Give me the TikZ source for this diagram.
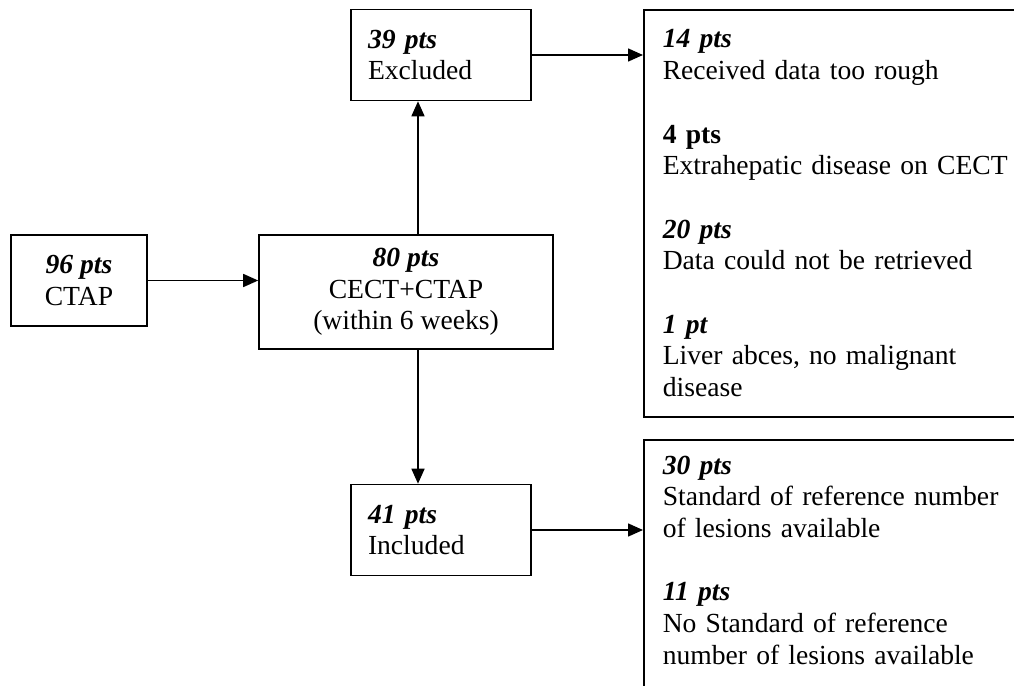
\documentclass[tikz,border=0pt]{standalone}
\usepackage{fontspec}
\setmainfont{Liberation Serif}
\usetikzlibrary{arrows.meta}

\newcommand{\pts}[1]{\textbf{\textit{#1}}}

\begin{document}
\begin{tikzpicture}[x=0.5pt,y=-0.5pt,
  font=\fontsize{13.8}{15.85}\selectfont,
  box/.style={draw,line width=0.8pt,inner sep=0pt},
  smallbox/.style={box,minimum width=90pt,minimum height=45.5pt,text width=73pt,align=left,inner xsep=8.5pt},
  bigbox/.style={box,anchor=north west,text width=176pt,align=left,inner xsep=9.5pt,inner ysep=8pt},
  arrow/.style={line width=0.8pt,-{Triangle[length=7.5pt,width=6.5pt]}}]
\useasboundingbox (0,0) rectangle (1014,686);

\node[box,minimum width=68pt,minimum height=45.5pt,align=center] (ctap) at (79,280.5) {\pts{96 pts}\\CTAP};
\node[box,minimum width=147pt,minimum height=57pt,align=center] (cect) at (406,292) {\pts{80 pts}\\CECT+CTAP\\(within 6 weeks)};
\node[smallbox] (excl) at (441,55) {\pts{39 pts}\\Excluded};
\node[smallbox] (incl) at (441,530) {\pts{41 pts}\\Included};

\node[bigbox,minimum height=203.5pt] (reasons) at (643,9) {\pts{14 pts}\\Received data too rough\\[15.85pt]
  \textbf{4 pts}\\Extrahepatic disease on CECT\\[15.85pt]
  \pts{20 pts}\\Data could not be retrieved\\[15.85pt]
  \pts{1 pt}\\Liver abces, no malignant\\disease};
\node[bigbox,text depth=115pt] (results) at (643,439) {\pts{30 pts}\\Standard of reference number\\of lesions available\\[15.85pt]
  \pts{11 pts}\\No Standard of reference\\number of lesions available};

\coordinate (stem) at (418,0);

\draw[arrow] (ctap.east) -- (ctap.east -| cect.west);
\draw[arrow] (stem |- cect.north) -- (stem |- excl.south);
\draw[arrow] (stem |- cect.south) -- (stem |- incl.north);
\draw[arrow] (excl.east) -- (excl.east -| reasons.west);
\draw[arrow] (incl.east) -- (incl.east -| results.west);
\end{tikzpicture}
\end{document}
